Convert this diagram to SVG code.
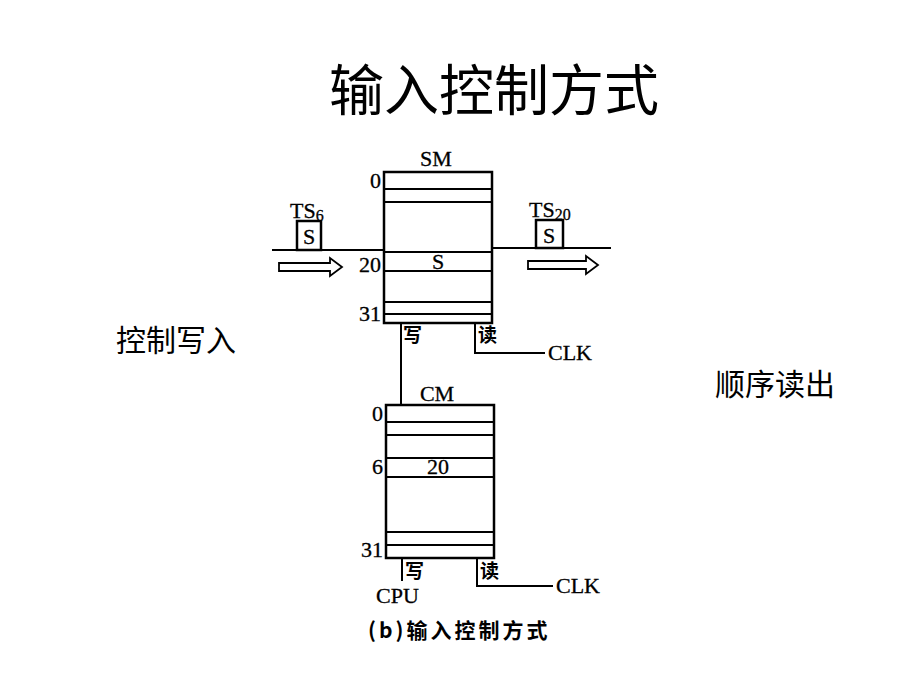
<svg xmlns="http://www.w3.org/2000/svg" width="920" height="690" viewBox="0 0 920 690">
<style>
.ln{stroke:#000;stroke-width:2;fill:none}
.box{stroke:#000;stroke-width:2.5;fill:#fff}
.t{font-family:"Liberation Serif","Noto Sans CJK SC",serif;fill:#000;font-size:22px;stroke:#000;stroke-width:0.3}
.t tspan.sub{font-size:16px}
.cj{font-family:"Noto Sans CJK SC",sans-serif;fill:#000}
.arr{stroke:#000;stroke-width:1.8;fill:#fff;stroke-linejoin:miter}
</style>
<rect width="920" height="690" fill="#fff"/>
<text class="cj" x="494" y="110" font-size="55" text-anchor="middle">输入控制方式</text>
<text class="cj" x="176" y="351" font-size="30" text-anchor="middle">控制写入</text>
<text class="cj" x="775" y="395" font-size="30" text-anchor="middle">顺序读出</text>

<g id="connectors">
<line class="ln" x1="272" y1="250" x2="384" y2="250"/>
<line class="ln" x1="492" y1="248" x2="611" y2="248"/>
<polyline class="ln" points="401,323 401,405"/>
<polyline class="ln" points="475,323 475,353 545,353"/>
<polyline class="ln" points="402,558 402,581"/>
<polyline class="ln" points="477,558 477,586 553,586"/>
<polygon class="arr" points="279,263 330,263 330,258 342,267 330,276 330,271 279,271"/>
<polygon class="arr" points="528,261 586,261 586,256 598,265 586,274 586,269 528,269"/>
</g>

<g id="TS6">
<rect class="box" x="297" y="221" width="24" height="29" stroke-width="2"/>
<text class="t" x="309" y="244" text-anchor="middle">S</text>
<text class="t" x="290" y="218">TS<tspan class="sub" dy="3">6</tspan></text>
</g>

<g id="TS20">
<rect class="box" x="536" y="220" width="27" height="28" stroke-width="2"/>
<text class="t" x="549" y="243" text-anchor="middle">S</text>
<text class="t" x="529" y="217">TS<tspan class="sub" dy="3">20</tspan></text>
</g>

<g id="SM">
<rect class="box" x="384" y="172" width="108" height="151"/>
<line class="ln" x1="384" y1="189" x2="492" y2="189"/>
<line class="ln" x1="384" y1="202" x2="492" y2="202"/>
<line class="ln" x1="384" y1="252" x2="492" y2="252"/>
<line class="ln" x1="384" y1="271" x2="492" y2="271"/>
<line class="ln" x1="384" y1="302" x2="492" y2="302"/>
<line class="ln" x1="384" y1="314" x2="492" y2="314"/>
<text class="t" x="436" y="166" text-anchor="middle">SM</text>
<text class="t" x="381" y="188" text-anchor="end">0</text>
<text class="t" x="381" y="272" text-anchor="end">20</text>
<text class="t" x="381" y="321" text-anchor="end">31</text>
<text class="t" x="438" y="269" text-anchor="middle">S</text>
<text class="cj" x="403" y="342" font-size="19" font-weight="bold">写</text>
<text class="cj" x="478" y="342" font-size="19" font-weight="bold">读</text>
<text class="t" x="548" y="360">CLK</text>
</g>

<g id="CM">
<rect class="box" x="386" y="405" width="108" height="153"/>
<line class="ln" x1="386" y1="422" x2="494" y2="422"/>
<line class="ln" x1="386" y1="435" x2="494" y2="435"/>
<line class="ln" x1="386" y1="458" x2="494" y2="458"/>
<line class="ln" x1="386" y1="477" x2="494" y2="477"/>
<line class="ln" x1="386" y1="532" x2="494" y2="532"/>
<line class="ln" x1="386" y1="545" x2="494" y2="545"/>
<text class="t" x="437" y="401" text-anchor="middle">CM</text>
<text class="t" x="383" y="421" text-anchor="end">0</text>
<text class="t" x="383" y="474" text-anchor="end">6</text>
<text class="t" x="438" y="474" text-anchor="middle">20</text>
<text class="t" x="383" y="557" text-anchor="end">31</text>
<text class="cj" x="405" y="578" font-size="19" font-weight="bold">写</text>
<text class="cj" x="480" y="578" font-size="19" font-weight="bold">读</text>
<text class="t" x="376" y="603">CPU</text>
<text class="t" x="556" y="593">CLK</text>
</g>

<text class="cj" x="368" y="638" font-size="21" font-weight="bold" letter-spacing="3">(b)输入控制方式</text>
</svg>
